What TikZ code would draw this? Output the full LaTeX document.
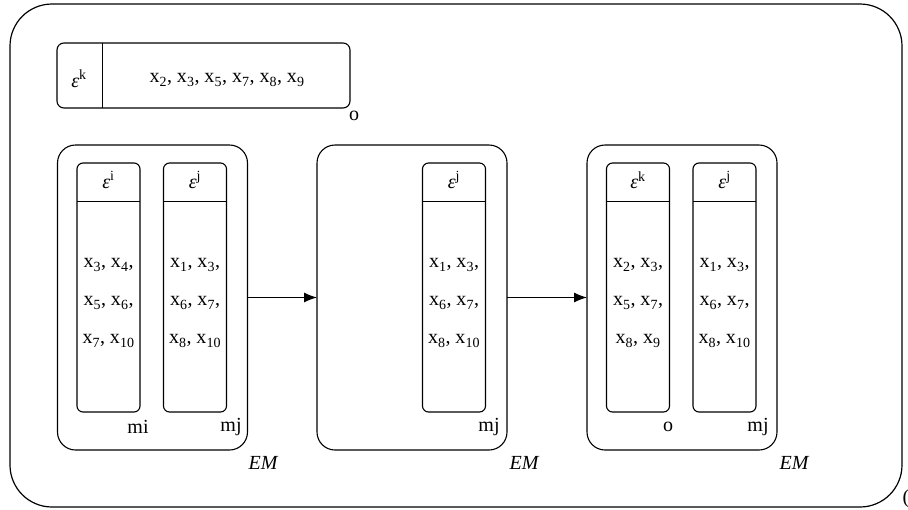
\documentclass[tikz,border=0pt]{standalone}
\usepackage{fontspec}
\setmainfont{Liberation Serif}
\usetikzlibrary{arrows.meta}
\newcommand{\xs}[1]{x\textsubscript{#1}}
\newcommand{\eps}[1]{{\itshape ε}\textsuperscript{#1}}
\tikzset{
  outerframe/.style={draw, line width=1.2pt, rounded corners=42pt, minimum width=892pt, minimum height=503pt, outer sep=0pt, inner sep=0pt},
  topbox/.style={draw, line width=1.1pt, rounded corners=7pt, minimum width=293pt, minimum height=65pt, outer sep=0pt, inner sep=0pt},
  embox/.style={draw, line width=1.1pt, rounded corners=18pt, minimum width=190pt, minimum height=305pt, outer sep=0pt, inner sep=0pt},
  colbox/.style={draw, line width=1.1pt, rounded corners=6pt, minimum width=63pt, minimum height=249pt, outer sep=0pt, inner sep=0pt},
  divider/.style={line width=1pt},
  txt/.style={font=\fontsize{20}{20}\selectfont, inner sep=0pt},
  itxt/.style={font=\fontsize{20}{20}\selectfont\itshape, inner sep=0pt},
  flow/.style={line width=1pt, -{Latex[length=13pt,width=10pt]}},
}
\begin{document}
\begin{tikzpicture}[x=1pt,y=-1pt]
\useasboundingbox (0,0) rectangle (908,509);
% outer frame
\node[outerframe] (frame) at (456,255.5) {};
\node[txt] (paren) at (906,499) {(};
% top box
\node[topbox] (top) at (203.5,75.5) {};
\coordinate (topdA) at (102,43);
\coordinate (topdB) at (102,108);
\draw[divider] (topdA) -- (topdB);
\node[txt] (topeps) at (79,79) {\eps{k}};
\node[txt] (toplist) at (227,80) {\xs{2}, \xs{3}, \xs{5}, \xs{7}, \xs{8}, \xs{9}};
\node[txt] (topo) at (354,116) {o};
% EM boxes
\node[embox] (em1) at (152.5,297.5) {};
\node[embox] (em2) at (412,297.5) {};
\node[embox] (em3) at (682,297.5) {};
% column boxes
\node[colbox] (c1i) at (108.5,287.5) {};
\node[colbox] (c1j) at (195,287.5) {};
\node[colbox] (c2j) at (454,287.5) {};
\node[colbox] (c3k) at (638,287.5) {};
\node[colbox] (c3j) at (724.5,287.5) {};
% dividers
\foreach \c in {c1i,c1j,c2j,c3k,c3j}{
  \draw[divider] ([yshift=-38pt]\c.north west) -- ([yshift=-38pt]\c.north east);
}
% headers
\node[txt] (h1i) at (108.5,180) {\eps{i}};
\node[txt] (h1j) at (195,180) {\eps{j}};
\node[txt] (h2j) at (454,180) {\eps{j}};
\node[txt] (h3k) at (638,180) {\eps{k}};
\node[txt] (h3j) at (724.5,180) {\eps{j}};
% lists
\node[txt, align=center] (l1i) at (108.5,303) {\xs{3}, \xs{4},\\[18pt]\xs{5}, \xs{6},\\[18pt]\xs{7}, \xs{10}};
\node[txt, align=center] (l1j) at (195,303) {\xs{1}, \xs{3},\\[18pt]\xs{6}, \xs{7},\\[18pt]\xs{8}, \xs{10}};
\node[txt, align=center] (l2j) at (454,303) {\xs{1}, \xs{3},\\[18pt]\xs{6}, \xs{7},\\[18pt]\xs{8}, \xs{10}};
\node[txt, align=center] (l3k) at (638,303) {\xs{2}, \xs{3},\\[18pt]\xs{5}, \xs{7},\\[18pt]\xs{8}, \xs{9}};
\node[txt, align=center] (l3j) at (724.5,303) {\xs{1}, \xs{3},\\[18pt]\xs{6}, \xs{7},\\[18pt]\xs{8}, \xs{10}};
% corner labels
\node[txt] (m1i) at (138,427) {mi};
\node[txt] (m1j) at (231,427) {mj};
\node[txt] (m2j) at (489,427) {mj};
\node[txt] (m3k) at (668,427) {o};
\node[txt] (m3j) at (758,427) {mj};
\node[itxt] (e1) at (263,463) {EM};
\node[itxt] (e2) at (524,463) {EM};
\node[itxt] (e3) at (794,463) {EM};
% arrows
\draw[flow] (em1.east) -- (em2.west);
\draw[flow] (em2.east) -- (em3.west);
\end{tikzpicture}
\end{document}
